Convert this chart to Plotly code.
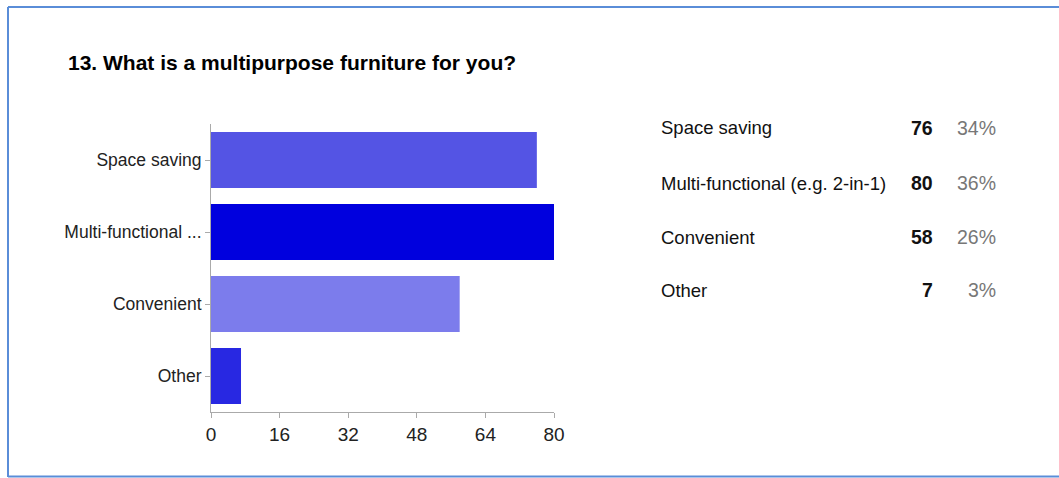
import plotly.graph_objects as go

categories = ["Space saving", "Multi-functional (e.g. 2-in-1)", "Convenient", "Other"]
axis_labels = ["Space saving", "Multi-functional ...", "Convenient", "Other"]
counts = [76, 80, 58, 7]
percents = ["34%", "36%", "26%", "3%"]
bar_colors = ["#5454E4", "#0000DE", "#7C7CEC", "#2828E2"]
x_ticks = [0, 16, 32, 48, 64, 80]
title = "13. What is a multipurpose furniture for you?"

FONT = "Liberation Sans, Arial, sans-serif"

W, H = 1059, 478
L, R, T, B = 211, 554, 124, 412

def px(x):
    return (x - L) / (R - L)

def py(y):
    return (B - y) / (B - T)

fig = go.Figure(go.Bar(
    x=counts, y=axis_labels, orientation="h",
    marker=dict(color=bar_colors, line=dict(width=0)),
    hoverinfo="skip",
))

fig.update_layout(
    width=W, height=H,
    margin=dict(l=L, r=W - R, t=T, b=H - B),
    paper_bgcolor="white", plot_bgcolor="white",
    bargap=0.22, showlegend=False,
    font=dict(family=FONT, color="#222222", size=17),
)
fig.update_xaxes(
    range=[0, 80], tickvals=x_ticks, showgrid=False, zeroline=False,
    showline=True, linecolor="#aaaaaa", linewidth=1,
    ticks="outside", ticklen=5, tickcolor="#aaaaaa",
    tickfont=dict(family=FONT, size=19, color="#222222"),
)
fig.update_yaxes(
    autorange="reversed", showgrid=False, zeroline=False,
    showline=True, linecolor="#aaaaaa", linewidth=1,
    ticks="outside", ticklen=5, tickcolor="#aaaaaa",
    tickfont=dict(family=FONT, size=17.5, color="#222222"),
)

ann = []
ann.append(dict(x=px(66), y=py(62), xref="paper", yref="paper", text="<b>" + title + "</b>",
                showarrow=False, xanchor="left", yanchor="middle",
                font=dict(family=FONT, size=21, color="#000000")))
rows_y = [128, 183, 237, 290]
for i, cat in enumerate(categories):
    ann.append(dict(x=px(659), y=py(rows_y[i]), xref="paper", yref="paper", text=cat,
                    showarrow=False, xanchor="left", yanchor="middle",
                    font=dict(family=FONT, size=18.5, color="#111111")))
    ann.append(dict(x=px(935), y=py(rows_y[i]), xref="paper", yref="paper", text="<b>%d</b>" % counts[i],
                    showarrow=False, xanchor="right", yanchor="middle",
                    font=dict(family=FONT, size=19.5, color="#111111")))
    ann.append(dict(x=px(998), y=py(rows_y[i]), xref="paper", yref="paper", text=percents[i],
                    showarrow=False, xanchor="right", yanchor="middle",
                    font=dict(family=FONT, size=19.5, color="#777777")))
fig.update_layout(annotations=ann)

border = "#5A8DD8"
fig.update_layout(shapes=[
    dict(type="line", xref="paper", yref="paper", x0=px(8), x1=px(1070), y0=py(7), y1=py(7),
         line=dict(color=border, width=2)),
    dict(type="line", xref="paper", yref="paper", x0=px(8), x1=px(8), y0=py(7), y1=py(477),
         line=dict(color=border, width=2)),
    dict(type="line", xref="paper", yref="paper", x0=px(8), x1=px(1070), y0=py(476.5), y1=py(476.5),
         line=dict(color=border, width=2)),
])

fig.write_html("out.html")
